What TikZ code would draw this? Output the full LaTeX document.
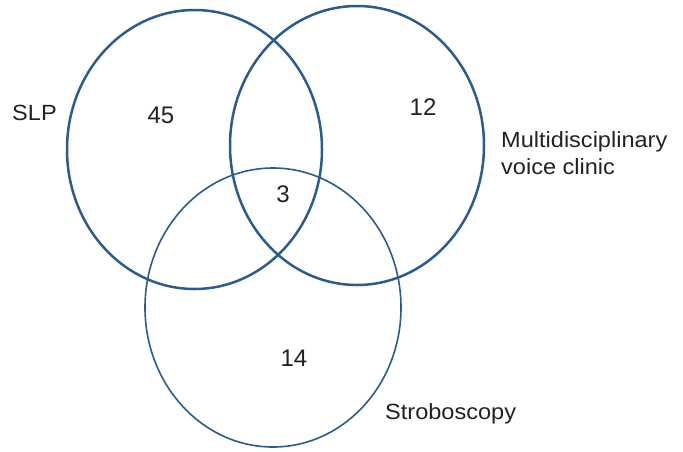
\documentclass[tikz,border=0pt]{standalone}
\usepackage{fontspec}
\setmainfont{Liberation Sans}
\definecolor{vennblue}{HTML}{2B5C8F}
\definecolor{txt}{HTML}{222222}
\begin{document}
\begin{tikzpicture}[x=1pt,y=-1pt,
  setline/.style={draw=vennblue,line width=2.5pt},
  setthin/.style={draw=vennblue,line width=1.6pt},
  lbl/.style={text=txt,font=\fontsize{22}{26}\selectfont,inner sep=0pt,xscale=1.07},
  num/.style={text=txt,font=\fontsize{24}{28}\selectfont,inner sep=0pt,anchor=base}]
\useasboundingbox[fill=white] (0,0) rectangle (683,451);
% sets
\draw[setline] (194.5,149.5) ellipse [x radius=127.5pt, y radius=139.5pt];
\draw[setline] (357,145.5) ellipse [x radius=127pt, y radius=139.5pt];
\draw[setthin] (273,307.5) ellipse [x radius=128pt, y radius=139.5pt];
% labels
\node[lbl,anchor=base west] (slp) at (12,120) {SLP};
\node[lbl,anchor=base west] (mvc1) at (501,147) {Multidisciplinary};
\node[lbl,anchor=base west] (mvc2) at (501,174) {voice clinic};
\node[lbl,anchor=base west] (strob) at (385,419) {Stroboscopy};
% counts
\node[num] (n45) at (161,123) {45};
\node[num] (n12) at (423,115) {12};
\node[num] (n3) at (283,202) {3};
\node[num] (n14) at (294,366) {14};
\end{tikzpicture}
\end{document}
